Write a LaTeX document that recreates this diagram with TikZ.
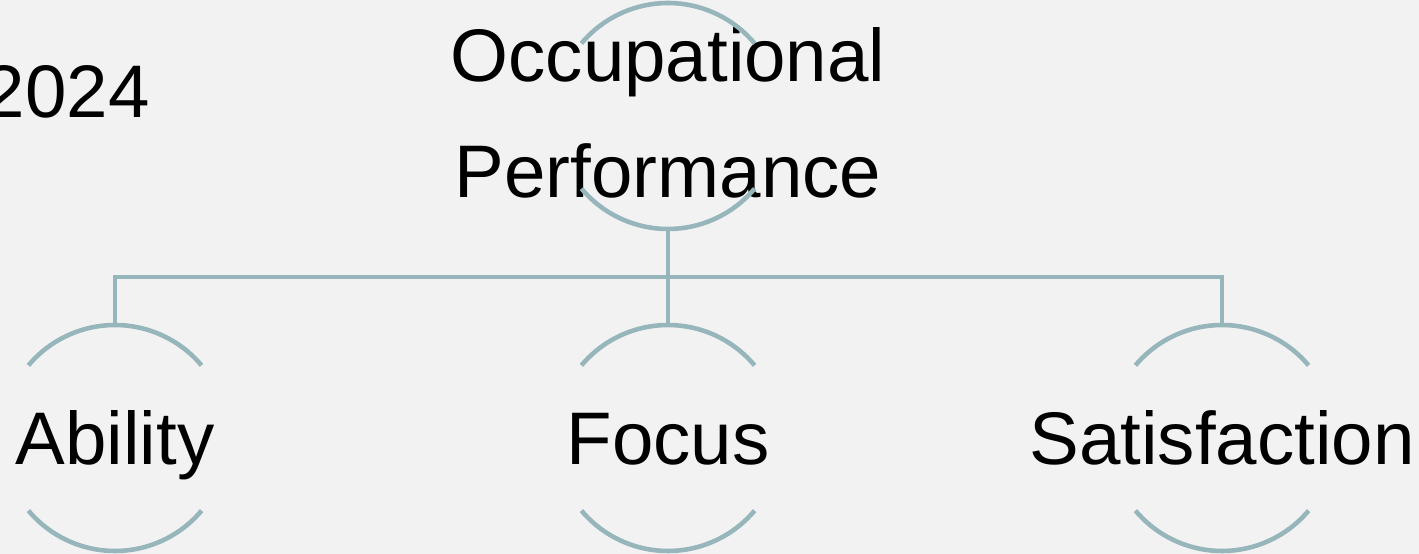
\documentclass[tikz,border=0pt]{standalone}
\usepackage{fontspec}
\setmainfont{Liberation Sans}
\definecolor{linegray}{RGB}{150,182,187}
\definecolor{bggray}{RGB}{242,242,242}

\begin{document}
\begin{tikzpicture}[x=0.02cm, y=0.02cm,
    txt/.style={font=\fontsize{42.4}{66}\selectfont, inner sep=0pt, text depth=0pt, text height=30.4pt},
    ring/.style={circle, minimum size=4.52cm, inner sep=0pt, outer sep=0pt},
    link/.style={line width=2.6pt, linegray}]
    \fill[bggray] (0, 0) rectangle (1419, 554);
    \useasboundingbox (0, 0) rectangle (1419, 554);

    \node[ring] (occring) at (668, 438) {};
    \node[ring] (abring) at (115, 116) {};
    \node[ring] (foring) at (668, 116) {};
    \node[ring] (saring) at (1222, 116) {};
    \coordinate (bus) at (668, 277);

    \node[txt, align=center, text height=96.4pt, yshift=0.06cm] (occ) at (occring) {Occupational\\Performance};
    \node[txt] (ab) at (abring) {Ability};
    \node[txt] (fo) at (foring) {Focus};
    \node[txt] (sa) at (saring) {Satisfaction};
    \node[txt, anchor=base east] (year) at (150, 436) {2024};

    \foreach \r in {occring, abring, foring, saring} {
        \draw[link] (\r.40) arc[start angle=40, end angle=140, radius=113];
        \draw[link] (\r.220) arc[start angle=220, end angle=320, radius=113];
    }
    \draw[link] (occring.south) -- (foring.north);
    \draw[link] (abring.north) |- (bus) -| (saring.north);
\end{tikzpicture}
\end{document}
